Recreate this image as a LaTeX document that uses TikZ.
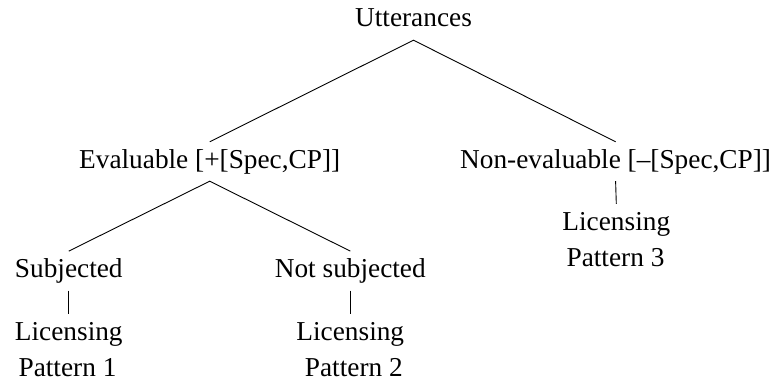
\documentclass[tikz,border=0pt]{standalone}
\usepackage{fontspec}
\setmainfont{Liberation Serif}
\begin{document}
\begin{tikzpicture}[x=1pt,y=-1pt,
  label/.style={anchor=base, inner xsep=0pt, inner ysep=8pt,
    text height=18pt, text depth=5pt,
    font=\fontsize{27.3}{32}\selectfont},
  branch/.style={line width=0.9pt}]
\useasboundingbox (0,0) rectangle (774,385);

% root
\node[label] (utt) at (413.5,27) {Utterances};

% first level
\node[label] (eval) at (209.7,168) {Evaluable [+[Spec,CP]]};
\node[label] (neval) at (615.6,168) {Non-evaluable [–[Spec,CP]]};

% second level under the evaluable branch
\node[label] (subj) at (68.8,277.3) {Subjected};
\node[label] (nsubj) at (350.3,277.3) {Not subjected};

% licensing patterns
\node[label] (lic1) at (68.8,340) {Licensing};
\node[label] (pat1) at (67.5,376.7) {Pattern 1};
\node[label] (lic2) at (350.3,340) {Licensing};
\node[label] (pat2) at (353.8,376.7) {Pattern 2};
\node[label] (lic3) at (616.3,230) {Licensing};
\node[label] (pat3) at (615.5,266.7) {Pattern 3};

% branches
\draw[branch] (eval.north) -- (utt.south) -- (neval.north);
\draw[branch] (subj.north) -- (eval.south) -- (nsubj.north);
\draw[branch] (neval.south) -- (lic3.north);
\draw[branch] (subj.south) -- (lic1.north);
\draw[branch] (nsubj.south) -- (lic2.north);
\end{tikzpicture}
\end{document}
